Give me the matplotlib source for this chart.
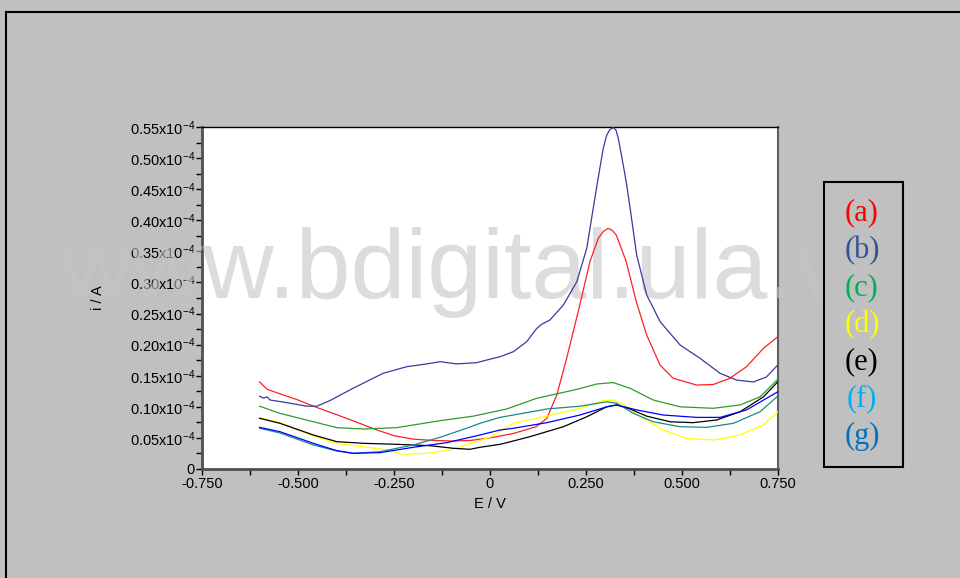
"""Voltammograms (a)-(g): i vs E, recreated from the figure."""
import matplotlib
matplotlib.use("Agg")
import matplotlib.pyplot as plt
from matplotlib.lines import Line2D
from matplotlib.patches import Rectangle
from matplotlib.ticker import MultipleLocator, FixedLocator, FixedFormatter

plt.rcParams["font.family"] = ["Liberation Sans", "DejaVu Sans"]
plt.rcParams["mathtext.fontset"] = "custom"
plt.rcParams["mathtext.rm"] = "Liberation Sans"
plt.rcParams["mathtext.it"] = "Liberation Sans:italic"
plt.rcParams["mathtext.default"] = "regular"

BG = "#c0c0c0"

# current in units of 1e-4 A, potential in V
e_a = [-0.60, -0.58, -0.50, -0.46, -0.40, -0.35, -0.30, -0.25, -0.20, -0.15, -0.10, -0.05, 0.00, 0.06,
       0.12, 0.148, 0.174, 0.20, 0.234, 0.26, 0.282, 0.295, 0.307, 0.318, 0.329, 0.355, 0.381, 0.408, 0.443,
       0.477, 0.538, 0.582, 0.625, 0.668, 0.712, 0.75]
i_a = [0.140, 0.128, 0.111, 0.101, 0.0875, 0.076, 0.064, 0.0535, 0.048, 0.046, 0.045, 0.046, 0.050, 0.057,
       0.068, 0.0815, 0.119, 0.179, 0.264, 0.333, 0.371, 0.382, 0.387, 0.384, 0.376, 0.333, 0.269, 0.2155, 0.167,
       0.146, 0.135, 0.136, 0.146, 0.1645, 0.194, 0.213]

e_b = [-0.60, -0.59, -0.58, -0.573, -0.529, -0.477, -0.451, -0.417, -0.356, -0.278, -0.217, -0.165, -0.130,
       -0.087, -0.035, 0.009, 0.026, 0.061, 0.0955, 0.1216, 0.1346, 0.156, 0.191, 0.226, 0.252, 0.273, 0.286,
       0.295, 0.304, 0.3125, 0.321, 0.328, 0.334, 0.347, 0.356, 0.365, 0.382, 0.408, 0.443, 0.495, 0.547, 0.599,
       0.642, 0.686, 0.72, 0.749]
i_b = [0.117, 0.114, 0.116, 0.111, 0.1067, 0.101, 0.101, 0.110, 0.130, 0.154, 0.1645, 0.169, 0.1726,
       0.169, 0.171, 0.178, 0.1806, 0.1887, 0.2047, 0.226, 0.2327, 0.2396, 0.2637, 0.301, 0.355, 0.4353, 0.4836,
       0.516, 0.537, 0.546, 0.549, 0.545, 0.532, 0.489, 0.4567, 0.419, 0.344, 0.280, 0.237, 0.1994, 0.178, 0.154,
       0.143, 0.140, 0.148, 0.167]

e_c = [-0.60, -0.547, -0.46, -0.399, -0.33, -0.243, -0.130, -0.0435, 0.0435, 0.1216, 0.226, 0.278, 0.321,
       0.365, 0.425, 0.495, 0.5815, 0.651, 0.703, 0.749]
i_c = [0.101, 0.0895, 0.076, 0.0665, 0.0643, 0.0665, 0.0777, 0.085, 0.0965, 0.1137, 0.128, 0.1367, 0.139,
       0.1297, 0.111, 0.100, 0.0976, 0.103, 0.116, 0.144]

e_d = [-0.60, -0.547, -0.46, -0.399, -0.33, -0.269, -0.226, -0.165, -0.104, -0.052, 0.00, 0.061, 0.148,
       0.234, 0.295, 0.321, 0.347, 0.391, 0.451, 0.512, 0.5815, 0.651, 0.712, 0.749]
i_d = [0.083, 0.0745, 0.053, 0.0413, 0.0359, 0.0306, 0.0236, 0.0252, 0.0306, 0.041, 0.051, 0.0735, 0.085,
       0.0976, 0.110, 0.111, 0.1045, 0.084, 0.0627, 0.049, 0.0466, 0.0547, 0.0707, 0.092]

e_e = [-0.60, -0.547, -0.46, -0.399, -0.33, -0.243, -0.156, -0.0956, -0.052, -0.026, 0.026, 0.0435, 0.104,
       0.191, 0.252, 0.304, 0.33, 0.365, 0.408, 0.469, 0.529, 0.59, 0.651, 0.712, 0.749]
i_e = [0.0815, 0.0735, 0.0547, 0.044, 0.0413, 0.0397, 0.0375, 0.0333, 0.0317, 0.0349, 0.0397, 0.0423, 0.052,
       0.068, 0.084, 0.100, 0.103, 0.0965, 0.085, 0.076, 0.0745, 0.0788, 0.092, 0.116, 0.140]

e_f = [-0.60, -0.547, -0.46, -0.399, -0.356, -0.286, -0.20, -0.13, -0.061, -0.026, 0.026, 0.061, 0.148,
       0.234, 0.304, 0.33, 0.373, 0.425, 0.495, 0.564, 0.634, 0.703, 0.749]
i_f = [0.0655, 0.058, 0.0386, 0.029, 0.0252, 0.0279, 0.0386, 0.051, 0.0655, 0.0735, 0.083, 0.0868, 0.0965,
       0.101, 0.108, 0.1057, 0.0896, 0.076, 0.068, 0.067, 0.0735, 0.092, 0.117]

e_g = [-0.60, -0.547, -0.46, -0.399, -0.356, -0.286, -0.20, -0.113, -0.026, 0.026, 0.061, 0.148, 0.234,
       0.304, 0.33, 0.382, 0.451, 0.538, 0.599, 0.668, 0.749]
i_g = [0.067, 0.060, 0.0413, 0.0295, 0.0252, 0.0263, 0.0349, 0.0423, 0.0547, 0.0627, 0.0655, 0.0745, 0.0868,
       0.100, 0.103, 0.095, 0.0868, 0.083, 0.083, 0.095, 0.124]

curve_colors = ["#ff2020", "#3a3a9c", "#2f9a2f", "#ffff00", "#000000", "#178a8a", "#0000ff"]
legend_labels = ["(a)", "(b)", "(c)", "(d)", "(e)", "(f)", "(g)"]
legend_colors = ["#ff0000", "#2f5597", "#00b050", "#ffff00", "#000000", "#00b0f0", "#0070c0"]

x_ticks = [-0.75, -0.5, -0.25, 0.0, 0.25, 0.5, 0.75]
x_tick_labels = ["-0.750", "-0.500", "-0.250", "0", "0.250", "0.500", "0.750"]
y_ticks = [0, 0.05, 0.10, 0.15, 0.20, 0.25, 0.30, 0.35, 0.40, 0.45, 0.50, 0.55]
y_tick_labels = ["0"] + [f"{v:.2f}x10$^{{-4}}$" for v in y_ticks[1:]]

fig = plt.figure(figsize=(9.6, 5.78), dpi=100, facecolor=BG)
ax = fig.add_axes([202 / 960, 1 - 469 / 578, 576 / 960, 342 / 578])
ax.set_facecolor("white")

series = [(e_a, i_a), (e_b, i_b), (e_c, i_c), (e_d, i_d), (e_e, i_e), (e_f, i_f), (e_g, i_g)]
for (e, i), c in zip(series, curve_colors):
    ax.plot(e, i, color=c, lw=0.9, zorder=3, solid_joinstyle="round")

ax.set_xlim(-0.75, 0.75)
ax.set_ylim(0, 0.55)
ax.xaxis.set_major_locator(FixedLocator(x_ticks))
ax.xaxis.set_major_formatter(FixedFormatter(x_tick_labels))
ax.xaxis.set_minor_locator(MultipleLocator(0.125))
ax.yaxis.set_major_locator(FixedLocator(y_ticks))
ax.yaxis.set_major_formatter(FixedFormatter(y_tick_labels))
ax.yaxis.set_minor_locator(MultipleLocator(0.025))
ax.tick_params(which="both", direction="out", length=4, width=1, colors="black", labelsize=10.5, pad=1)
ax.tick_params(axis="x", which="both", pad=2)

for side in ("left", "bottom"):
    ax.spines[side].set_linewidth(2)
    ax.spines[side].set_color("#505050")
ax.spines["top"].set_linewidth(1)
ax.spines["right"].set_linewidth(1.5)
ax.spines["right"].set_color("#606060")

ax.set_xlabel("E / V", fontsize=10.5)
ax.set_ylabel("i / A", fontsize=10.5)
ax.xaxis.set_label_coords(0.5, -0.082)
ax.yaxis.set_label_coords(-0.168, 0.5)

# watermark over the chart, under the curves
ax.text(60 / 960, 1 - 298 / 578, "www.bdigital.ula.ve", transform=fig.transFigure, fontsize=71,
        color="#c5c5c5", alpha=0.6, ha="left", va="baseline", clip_on=False, zorder=2.7)

# outer frame
fig.add_artist(Line2D([5.5 / 960, 5.5 / 960], [0, 1 - 12 / 578], transform=fig.transFigure, color="black", lw=1.5))
fig.add_artist(Line2D([5.5 / 960, 1], [1 - 12 / 578, 1 - 12 / 578], transform=fig.transFigure, color="black", lw=1.5))

# legend box
fig.add_artist(Rectangle((824 / 960, 1 - 467 / 578), 79 / 960, 285 / 578, transform=fig.transFigure,
                         facecolor=BG, edgecolor="black", lw=1.5, zorder=5))
for k, (lab, c) in enumerate(zip(legend_labels, legend_colors)):
    fig.text(862 / 960, 1 - (213 + 37.2 * k) / 578, lab, color=c, fontsize=22,
             family=["Liberation Serif", "DejaVu Serif"], ha="center", va="center", zorder=6)

fig.savefig("out.png", dpi=100, facecolor=BG)
